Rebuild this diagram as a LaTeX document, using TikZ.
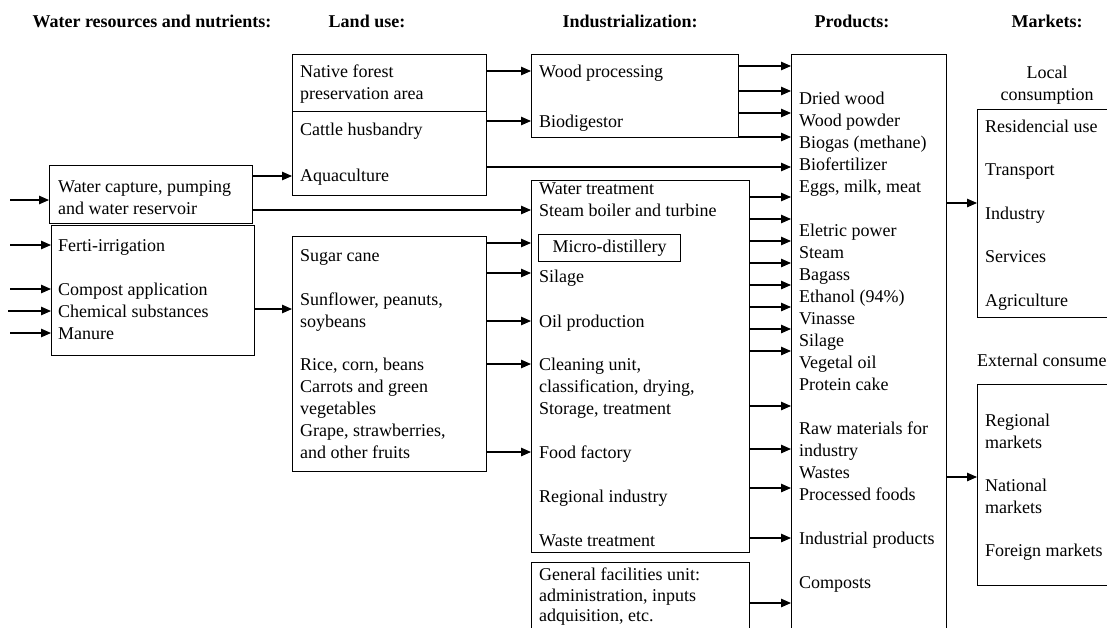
\documentclass[tikz,border=0pt]{standalone}
\usepackage{fontspec}
\setmainfont{Liberation Serif}
\usetikzlibrary{arrows.meta}
\begin{document}
\begin{tikzpicture}[x=1pt,y=-1pt,
  box/.style={draw,line width=1.2pt,inner sep=0pt,anchor=north west},
  txt/.style={anchor=base west,inner sep=0pt,font=\fontsize{18}{22}\selectfont},
  ctxt/.style={txt,anchor=base},
  hdr/.style={anchor=base,inner sep=0pt,font=\fontsize{18}{22}\selectfont\bfseries},
  arr/.style={line width=1.1pt,-{Triangle[length=10pt,width=8.5pt]}}]
\useasboundingbox (0,0) rectangle (1107,627);
\clip (0,0) rectangle (1107,627);

% headers
\node[hdr] (h1) at (152,27) {Water resources and nutrients:};
\node[hdr] (h2) at (367,27) {Land use:};
\node[hdr] (h3) at (630,27) {Industrialization:};
\node[hdr] (h4) at (852,27) {Products:};
\node[hdr] (h5) at (1047,27) {Markets:};

% boxes
\node[box,minimum width=203pt,minimum height=58pt] (w1) at (49,165) {};
\node[box,minimum width=203pt,minimum height=130pt] (w2) at (51,225) {};
\node[box,minimum width=194pt,minimum height=57pt] (l1a) at (292,54) {};
\node[box,minimum width=194pt,minimum height=84pt] (l1b) at (292,111) {};
\node[box,minimum width=194pt,minimum height=235pt] (l2) at (292,236) {};
\node[box,minimum width=207pt,minimum height=83pt] (wood) at (531,54) {};
\node[box,minimum width=218pt,minimum height=372pt] (ind) at (531,180) {};
\node[box,minimum width=218pt,minimum height=80pt] (gen) at (531,562) {};
\node[box,minimum width=155pt,minimum height=590pt] (prod) at (791,54) {};
\node[box,minimum width=160pt,minimum height=208pt] (loc) at (977,109) {};
\node[box,minimum width=160pt,minimum height=201pt] (ext) at (977,384) {};
\node[box,minimum width=142pt,minimum height=27pt,font=\fontsize{18}{22}\selectfont] (micro) at (538,234) {Micro-distillery};

% water texts
\node[txt] (tw1) at (58,192) {Water capture, pumping};
\node[txt] (tw2) at (58,214) {and water reservoir};
\node[txt] (tw3) at (58,251) {Ferti-irrigation};
\node[txt] (tw4) at (58,295) {Compost application};
\node[txt] (tw5) at (58,317) {Chemical substances};
\node[txt] (tw6) at (58,339) {Manure};

% land use texts
\node[txt] (tl1) at (300,77) {Native forest};
\node[txt] (tl2) at (300,99) {preservation area};
\node[txt] (tl3) at (300,135) {Cattle husbandry};
\node[txt] (tl4) at (300,181) {Aquaculture};
\node[txt] (tl5) at (300,261) {Sugar cane};
\node[txt] (tl6) at (300,305) {Sunflower, peanuts,};
\node[txt] (tl7) at (300,327) {soybeans};
\node[txt] (tl8) at (300,370) {Rice, corn, beans};
\node[txt] (tl9) at (300,392) {Carrots and green};
\node[txt] (tl10) at (300,414) {vegetables};
\node[txt] (tl11) at (300,436) {Grape, strawberries,};
\node[txt] (tl12) at (300,458) {and other fruits};

% industrialization texts
\node[txt] (ti1) at (539,77) {Wood processing};
\node[txt] (ti2) at (539,127) {Biodigestor};
\node[txt] (ti3) at (539,194) {Water treatment};
\node[txt] (ti4) at (539,216) {Steam boiler and turbine};
\node[txt] (ti5) at (539,282) {Silage};
\node[txt] (ti6) at (539,327) {Oil production};
\node[txt] (ti7) at (539,370) {Cleaning unit,};
\node[txt] (ti8) at (539,392) {classification, drying,};
\node[txt] (ti9) at (539,414) {Storage, treatment};
\node[txt] (ti10) at (539,458) {Food factory};
\node[txt] (ti11) at (539,502) {Regional industry};
\node[txt] (ti12) at (539,546) {Waste treatment};
\node[txt] (ti13) at (539,580) {General facilities unit:};
\node[txt] (ti14) at (539,601) {administration, inputs};
\node[txt] (ti15) at (539,621) {adquisition, etc.};

% products texts
\foreach \i/\t in {0/Dried wood, 1/Wood powder, 2/Biogas (methane), 3/Biofertilizer,
  4/{Eggs, milk, meat}, 6/Eletric power, 7/Steam, 8/Bagass, 9/Ethanol (94\%),
  10/Vinasse, 11/Silage, 12/Vegetal oil, 13/Protein cake, 15/Raw materials for,
  16/industry, 17/Wastes, 18/Processed foods, 20/Industrial products, 22/Composts}
  \node[txt] (p\i) at (799,104+22*\i) {\t};

% markets texts
\node[ctxt] (tm1) at (1047,78) {Local};
\node[ctxt] (tm2) at (1047,100) {consumption};
\node[txt] (tm3) at (985,132) {Residencial use};
\node[txt] (tm4) at (985,175) {Transport};
\node[txt] (tm5) at (985,219) {Industry};
\node[txt] (tm6) at (985,262) {Services};
\node[txt] (tm7) at (985,306) {Agriculture};
\node[txt] (tm8) at (977,366) {External consumers};
\node[txt] (tm9) at (985,426) {Regional};
\node[txt] (tm10) at (985,448) {markets};
\node[txt] (tm11) at (985,491) {National};
\node[txt] (tm12) at (985,513) {markets};
\node[txt] (tm13) at (985,556) {Foreign markets};

% input arrows
\coordinate (in1) at (10,200);
\coordinate (in2) at (10,245);
\coordinate (in3) at (10,289);
\coordinate (in4) at (8,311);
\coordinate (in5) at (10,333);
\draw[arr] (in1) -- (w1.west |- in1);
\foreach \n in {2,3,4,5} \draw[arr] (in\n) -- (w2.west |- in\n);

% connectors
\draw[arr] (w1.east |- 0,176) -- (l1b.west |- 0,176);
\draw[arr] (w1.east |- 0,210) -- (ind.west |- 0,210);
\draw[arr] (w2.east |- 0,309) -- (l2.west |- 0,309);
\foreach \y in {71,121} \draw[arr] (l1a.east |- 0,\y) -- (wood.west |- 0,\y);
\draw[arr] (l1b.east |- 0,167) -- (prod.west |- 0,167);
\foreach \y in {243,273,321,364,452} \draw[arr] (l2.east |- 0,\y) -- (ind.west |- 0,\y);
\foreach \y in {66,91,113,137} \draw[arr] (wood.east |- 0,\y) -- (prod.west |- 0,\y);
\foreach \y in {197,219,241,263,285,307,329,351,406,449,488,538}
  \draw[arr] (ind.east |- 0,\y) -- (prod.west |- 0,\y);
\draw[arr] (gen.east |- 0,603) -- (prod.west |- 0,603);
\draw[arr] (prod.east |- 0,203) -- (loc.west |- 0,203);
\draw[arr] (prod.east |- 0,477) -- (ext.west |- 0,477);
\end{tikzpicture}
\end{document}
